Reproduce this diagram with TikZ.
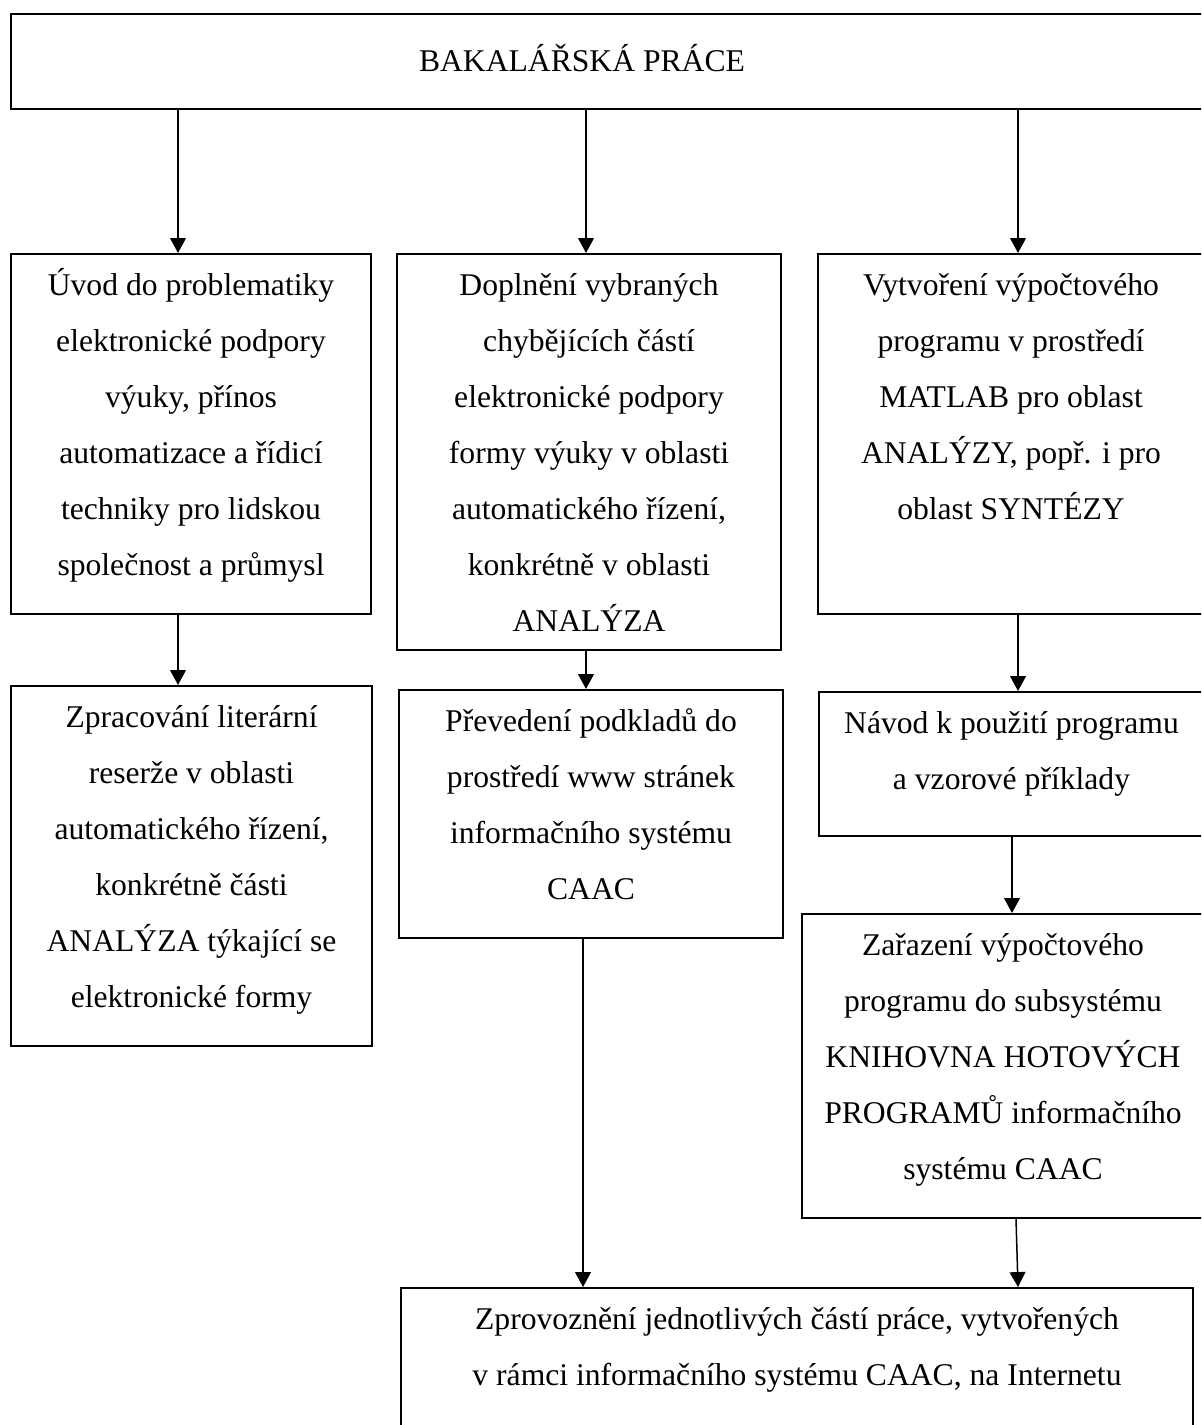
\documentclass[tikz,border=0pt]{standalone}
\usepackage{fontspec}
\setmainfont{Liberation Serif}
\usetikzlibrary{arrows.meta}
\newcommand\pxlen{0.02cm}
\tikzset{
  box/.style={draw, line width=1.15pt, rectangle, inner sep=0pt, anchor=north west},
  txt/.style={anchor=north, align=center, inner sep=0pt,
              font=\fontsize{18}{31.9}\selectfont},
  arr/.style={line width=0.85pt, -{Triangle[width=9pt,length=8.5pt]}}
}
\begin{document}
\begin{tikzpicture}[x=0.02cm, y=-0.02cm]
\clip (0,0) rectangle (1201,1425);
\fill[white] (0,0) rectangle (1201,1425);

% boxes (width x height given in the picture's units)
\node[box, minimum width=1193*\pxlen, minimum height=95*\pxlen]  (top) at (10,13) {};
\node[box, minimum width=360*\pxlen,  minimum height=360*\pxlen] (L1)  at (10,253) {};
\node[box, minimum width=384*\pxlen,  minimum height=396*\pxlen] (M1)  at (396,253) {};
\node[box, minimum width=386*\pxlen,  minimum height=360*\pxlen] (R1)  at (817,253) {};
\node[box, minimum width=361*\pxlen,  minimum height=360*\pxlen] (L2)  at (10,685) {};
\node[box, minimum width=384*\pxlen,  minimum height=248*\pxlen] (M2)  at (398,689) {};
\node[box, minimum width=385*\pxlen,  minimum height=144*\pxlen] (R2)  at (818,691) {};
\node[box, minimum width=402*\pxlen,  minimum height=304*\pxlen] (R3)  at (801,913) {};
\node[box, minimum width=792*\pxlen,  minimum height=170*\pxlen] (B)   at (400,1287) {};

% texts
\node[anchor=base, inner sep=0pt, font=\fontsize{18}{31.9}\selectfont] (topt) at (582,72) {BAKALÁŘSKÁ PRÁCE};
\node[txt] (L1t) at ([yshift=-1.57pt]L1.north) {\strut Úvod do problematiky\\elektronické podpory\\výuky, přínos\\automatizace a řídicí\\techniky pro lidskou\\společnost a průmysl};
\node[txt] (M1t) at ([yshift=-1.57pt]M1.north) {\strut Doplnění vybraných\\chybějících částí\\elektronické podpory\\formy výuky v oblasti\\automatického řízení,\\konkrétně v oblasti\\ANALÝZA};
\node[txt] (R1t) at ([yshift=-1.57pt]R1.north) {\strut Vytvoření výpočtového\\programu v prostředí\\MATLAB pro oblast\\ANALÝZY, popř. i pro\\oblast SYNTÉZY};
\node[txt] (L2t) at ([yshift=-1.57pt]L2.north) {\strut Zpracování literární\\reserže v oblasti\\automatického řízení,\\konkrétně části\\ANALÝZA týkající se\\elektronické formy};
\node[txt] (M2t) at ([yshift=-1.57pt]M2.north) {\strut Převedení podkladů do\\prostředí www stránek\\informačního systému\\CAAC};
\node[txt] (R2t) at ([yshift=-1.57pt]R2.north) {\strut Návod k použití programu\\a vzorové příklady};
\node[txt] (R3t) at ([yshift=-1.57pt]R3.north) {\strut Zařazení výpočtového\\programu do subsystému\\KNIHOVNA HOTOVÝCH\\PROGRAMŮ informačního\\systému CAAC};
\node[txt] (Bt) at ([yshift=-1.57pt]B.north) {\strut Zprovoznění jednotlivých částí práce, vytvořených\\v rámci informačního systému CAAC, na Internetu};

% connector columns
\coordinate (cL)  at (178,0);
\coordinate (cM)  at (586,0);
\coordinate (cR)  at (1018,0);
\coordinate (cR2) at (1012,0);
\coordinate (cM2) at (583,0);
\coordinate (cR3a) at (1016,0);
\coordinate (cR3b) at (1018,0);

% connectors
\draw[arr] (top.south -| cL) -- (L1.north -| cL);
\draw[arr] (top.south -| cM) -- (M1.north -| cM);
\draw[arr] (top.south -| cR) -- (R1.north -| cR);
\draw[arr] (L1.south -| cL) -- (L2.north -| cL);
\draw[arr] (M1.south -| cM) -- (M2.north -| cM);
\draw[arr] (R1.south -| cR) -- (R2.north -| cR);
\draw[arr] (R2.south -| cR2) -- (R3.north -| cR2);
\draw[arr] (M2.south -| cM2) -- (B.north -| cM2);
\draw[arr] (R3.south -| cR3a) -- (B.north -| cR3b);
\end{tikzpicture}
\end{document}
